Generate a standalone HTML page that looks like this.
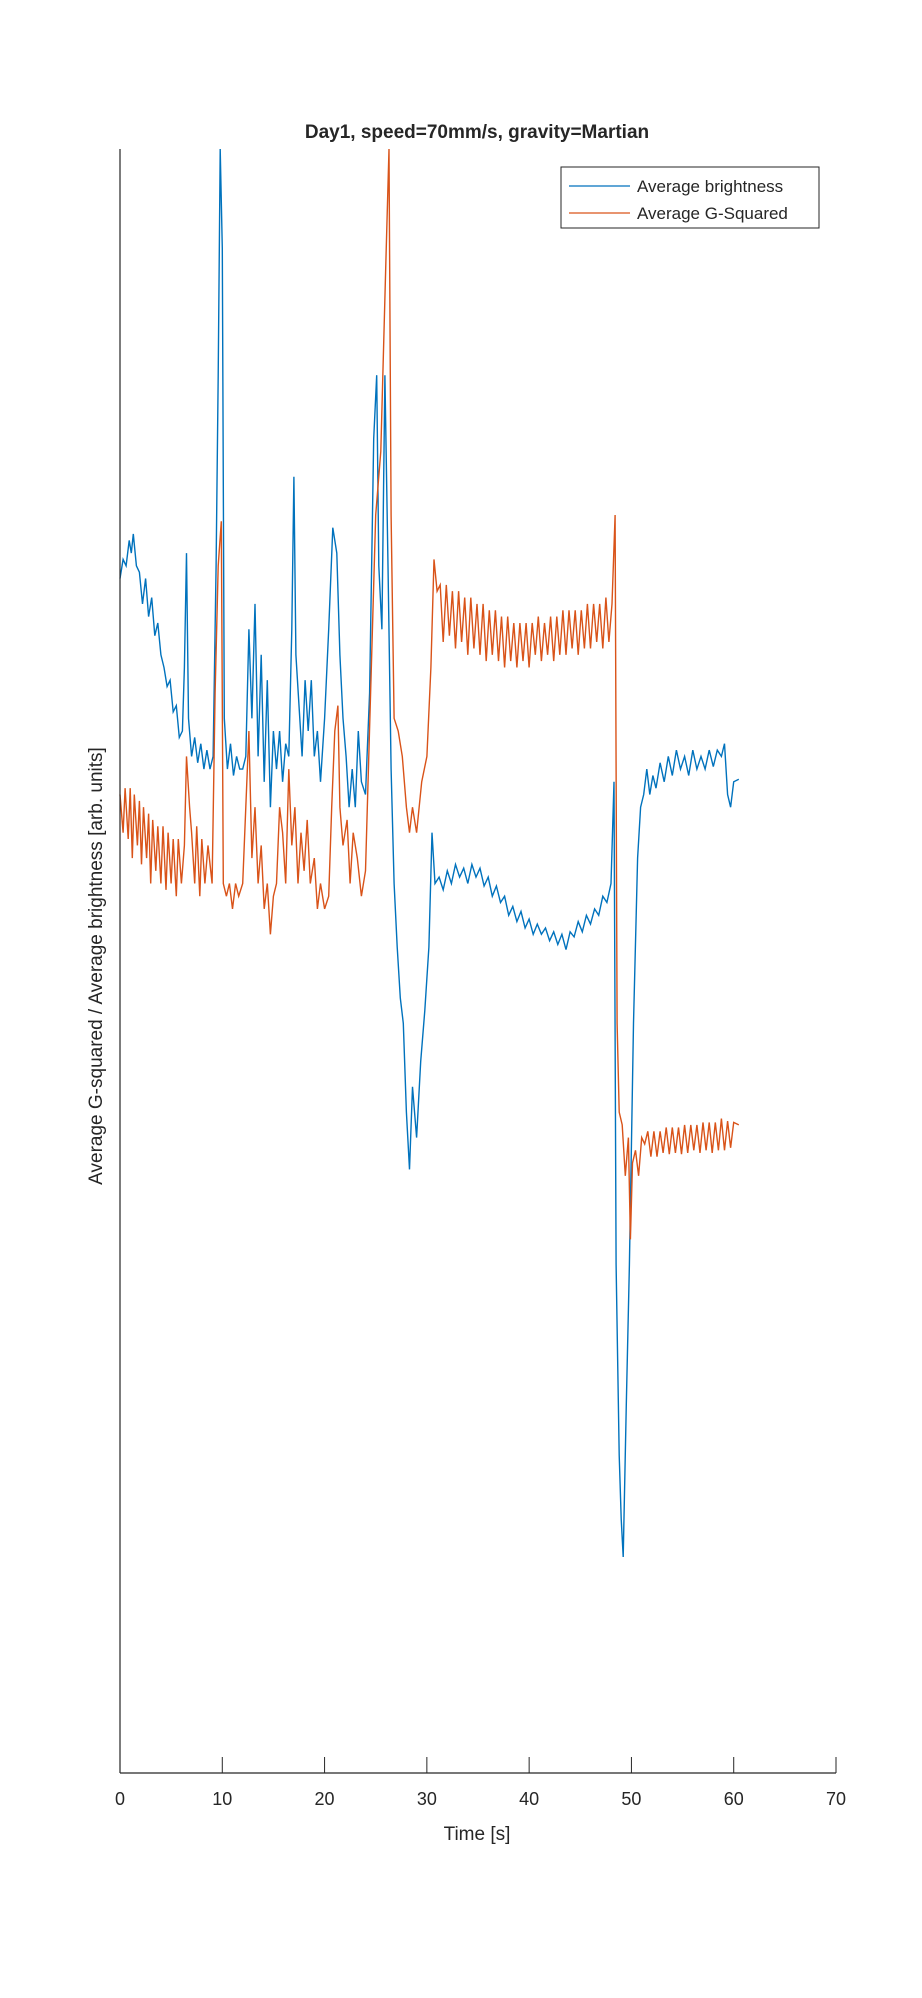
<!DOCTYPE html>
<html><head><meta charset="utf-8"><style>
body{margin:0;background:#fff}
svg text{font-family:"Liberation Sans",sans-serif;fill:#262626}
</style></head><body>
<svg id="chart" width="922" height="1993" viewBox="0 0 922 1993" xmlns="http://www.w3.org/2000/svg">
<rect width="922" height="1993" fill="#fff"/>
<text x="477" y="138" text-anchor="middle" font-size="19" font-weight="bold" fill="#000">Day1, speed=70mm/s, gravity=Martian</text>
<g id="plot"></g>
<line x1="120" y1="149" x2="120" y2="1773" stroke="#262626" stroke-width="1.2"/>
<line x1="120" y1="1773" x2="836" y2="1773" stroke="#262626" stroke-width="1.2"/>
<g id="ticks"></g>
<text x="477" y="1840" text-anchor="middle" font-size="19">Time [s]</text>
<text transform="translate(102,966) rotate(-90)" text-anchor="middle" font-size="19">Average G-squared / Average brightness [arb. units]</text>
<g>
<rect x="561" y="167" width="258" height="61" fill="#fff" stroke="#262626" stroke-width="1"/>
<line x1="569" y1="186" x2="630" y2="186" stroke="#0072BD" stroke-width="1.2"/>
<text x="637" y="192" font-size="17">Average brightness</text>
<line x1="569" y1="213" x2="630" y2="213" stroke="#D95319" stroke-width="1.2"/>
<text x="637" y="219" font-size="17">Average G-Squared</text>
</g>
</svg>
<script>
const xTicks=[0,10,20,30,40,50,60,70];
const brightT=[0,0.3,0.6,0.9,1.1,1.3,1.6,1.9,2.2,2.5,2.8,3.1,3.4,3.7,4,4.3,4.6,4.9,5.2,5.5,5.8,6.1,6.3,6.5,6.7,7,7.3,7.6,7.9,8.2,8.5,8.8,9.1,9.4,9.6,9.8,10,10.2,10.5,10.8,11.1,11.4,11.7,12,12.3,12.6,12.9,13.2,13.5,13.8,14.1,14.4,14.7,15,15.3,15.6,15.9,16.2,16.5,16.8,17,17.2,17.5,17.8,18.1,18.4,18.7,19,19.3,19.6,20,20.4,20.8,21.2,21.5,21.8,22.1,22.4,22.7,23,23.3,23.6,24,24.4,24.8,25.1,25.3,25.6,25.9,26.2,26.5,26.8,27.1,27.4,27.7,28,28.3,28.6,29,29.4,29.8,30.2,30.5,30.8,31.2,31.6,32,32.4,32.8,33.2,33.6,34,34.4,34.8,35.2,35.6,36,36.4,36.8,37.2,37.6,38,38.4,38.8,39.2,39.6,40,40.4,40.8,41.2,41.6,42,42.4,42.8,43.2,43.6,44,44.4,44.8,45.2,45.6,46,46.4,46.8,47.2,47.6,48,48.3,48.5,48.8,49,49.2,49.5,49.8,50.2,50.6,50.9,51.2,51.5,51.8,52.1,52.4,52.8,53.2,53.6,54,54.4,54.8,55.2,55.6,56,56.4,56.8,57.2,57.6,58,58.4,58.8,59.1,59.4,59.7,60,60.5];
const brightV=[940,955,950,970,960,975,950,945,920,940,910,925,895,905,880,870,855,860,835,840,815,820,870,960,830,800,815,795,810,790,805,790,800,950,1100,1278,1200,830,790,810,785,800,790,790,800,900,830,920,800,880,780,860,760,820,790,820,780,810,800,900,1020,880,840,800,860,820,860,800,820,780,830,900,980,960,880,830,800,760,790,760,820,780,770,850,1050,1100,950,900,1100,950,790,700,650,610,590,520,475,540,500,560,600,650,740,700,705,695,710,700,715,705,712,700,715,705,712,698,705,690,698,685,690,675,682,670,678,665,672,660,668,660,665,655,662,652,660,648,662,658,670,662,675,668,680,675,690,685,700,780,400,250,200,170,290,400,590,720,760,770,790,770,785,775,795,780,800,785,805,790,800,785,805,790,800,790,805,792,805,800,810,770,760,780,782];
const gsqT=[0,0.3,0.5,0.8,1,1.2,1.4,1.7,1.9,2.1,2.3,2.6,2.8,3,3.2,3.5,3.7,4,4.2,4.5,4.7,5,5.2,5.5,5.7,6,6.3,6.5,6.8,7,7.3,7.5,7.8,8,8.3,8.6,9,9.3,9.6,9.9,10.1,10.4,10.7,11,11.3,11.6,12,12.3,12.6,12.9,13.2,13.5,13.8,14.1,14.4,14.7,15,15.3,15.6,15.9,16.2,16.5,16.8,17.1,17.4,17.7,18,18.3,18.6,19,19.3,19.6,20,20.4,20.7,21,21.3,21.5,21.8,22.2,22.5,22.8,23.2,23.6,24,24.5,25,25.5,26,26.3,26.5,26.8,27.2,27.6,28,28.3,28.6,29,29.5,30,30.4,30.7,31,31.3,31.6,31.9,32.2,32.5,32.8,33.1,33.4,33.7,34,34.3,34.6,34.9,35.2,35.5,35.8,36.1,36.4,36.7,37,37.3,37.6,37.9,38.2,38.5,38.8,39.1,39.4,39.7,40,40.3,40.6,40.9,41.2,41.5,41.8,42.1,42.4,42.7,43,43.3,43.6,43.9,44.2,44.5,44.8,45.1,45.4,45.7,46,46.3,46.6,46.9,47.2,47.5,47.8,48.1,48.4,48.6,48.8,49.1,49.4,49.7,49.9,50.1,50.4,50.7,51,51.3,51.6,51.9,52.2,52.5,52.8,53.1,53.4,53.7,54,54.3,54.6,54.9,55.2,55.5,55.8,56.1,56.4,56.7,57,57.3,57.6,57.9,58.2,58.5,58.8,59.1,59.4,59.7,60,60.5];
const gsqV=[770,740,775,735,775,720,770,730,765,715,760,720,755,700,750,710,745,700,745,695,740,700,735,690,735,700,730,800,760,740,700,745,690,735,700,730,700,850,950,985,700,690,700,680,700,690,700,760,820,720,760,700,730,680,700,660,690,700,760,740,700,790,730,760,700,740,710,750,700,720,680,700,680,690,760,820,840,760,730,750,700,740,720,690,710,850,990,1040,1190,1278,990,830,820,800,760,740,760,740,780,800,870,955,930,935,890,935,895,930,885,930,890,925,880,925,885,920,880,920,875,915,880,915,875,910,870,910,875,905,870,905,875,905,870,905,880,910,875,905,880,910,875,910,880,915,880,915,885,915,880,915,885,920,885,920,890,920,885,925,890,920,990,590,520,510,470,500,420,480,490,470,500,495,505,485,505,485,505,488,508,487,508,488,508,487,510,488,510,490,510,488,512,490,512,488,512,490,515,490,513,492,512,510];
const X0=120,X1=836,Y0=1773,Y1=149,xMax=70,yMax=1278;
const xs=t=>X0+(t/xMax)*(X1-X0);
const ys=v=>Y0-(v/yMax)*(Y0-Y1);
const NS="http://www.w3.org/2000/svg";
const plot=document.getElementById('plot');
function addLine(T,V,color,name){
  const p=document.createElementNS(NS,'path');
  p.setAttribute('d',T.map((t,i)=>(i?'L':'M')+xs(t).toFixed(1)+','+ys(V[i]).toFixed(1)).join(''));
  p.setAttribute('fill','none');p.setAttribute('stroke',color);p.setAttribute('stroke-width','1.4');
  
  
  plot.appendChild(p);
}
addLine(brightT,brightV,'#0072BD','brightness-line');
addLine(gsqT,gsqV,'#D95319','gsquared-line');
const tg=document.getElementById('ticks');
xTicks.forEach(t=>{
  const l=document.createElementNS(NS,'line');
  l.setAttribute('x1',xs(t));l.setAttribute('x2',xs(t));l.setAttribute('y1',Y0);l.setAttribute('y2',Y0-16);
  l.setAttribute('stroke','#262626');
  
  
  tg.appendChild(l);
  const tx=document.createElementNS(NS,'text');
  tx.setAttribute('x',xs(t));tx.setAttribute('y',1805);tx.setAttribute('text-anchor','middle');tx.setAttribute('font-size','18');
  tx.textContent=t;
  
  
  tg.appendChild(tx);
});
</script>
</body></html>
